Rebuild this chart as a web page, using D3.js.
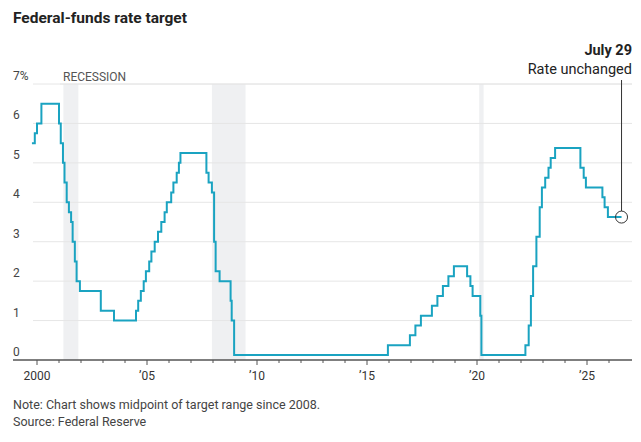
<!DOCTYPE html>
<html lang="en">
<head>
<meta charset="UTF-8">
<script src="https://d3js.org/d3.v7.min.js"></script>
<style>
  body { margin: 0; background: #fff; font-family: "Liberation Sans Narrow", Roboto, sans-serif; }
  text { font-family: "Liberation Sans Narrow", Roboto, sans-serif; }
</style>
</head>
<body>
<div id="chart"></div>
<script>
// [year, rate] - each value holds until the next step
const steps = [
  [1999.77, 5.5], [1999.9, 5.75], [2000.0, 6.0], [2000.15, 6.0], [2000.2, 6.5],
  [2001.0, 6.0], [2001.08, 5.5], [2001.18, 5.0], [2001.25, 4.5], [2001.35, 4.0],
  [2001.45, 3.75], [2001.55, 3.5], [2001.62, 3.0], [2001.72, 2.5], [2001.8, 2.0],
  [2001.95, 1.75], [2002.9, 1.25], [2003.5, 1.0], [2004.5, 1.25], [2004.6, 1.5],
  [2004.72, 1.75], [2004.85, 2.0], [2004.95, 2.25], [2005.1, 2.5], [2005.2, 2.75],
  [2005.35, 3.0], [2005.5, 3.25], [2005.65, 3.5], [2005.8, 3.75], [2005.9, 4.0],
  [2006.1, 4.25], [2006.2, 4.5], [2006.35, 4.75], [2006.45, 5.0], [2006.52, 5.25],
  [2007.7, 4.75], [2007.8, 4.5], [2007.95, 4.25], [2008.05, 3.0], [2008.12, 2.25],
  [2008.3, 2.0], [2008.8, 1.5], [2008.85, 1.0], [2008.96, 0.125],
  [2015.95, 0.375], [2016.95, 0.625], [2017.2, 0.875], [2017.45, 1.125],
  [2017.95, 1.375], [2018.2, 1.625], [2018.45, 1.875], [2018.7, 2.125],
  [2018.95, 2.375], [2019.55, 2.125], [2019.7, 1.875], [2019.8, 1.625],
  [2020.15, 1.125], [2020.2, 0.125], [2022.2, 0.375], [2022.35, 0.875],
  [2022.45, 1.625], [2022.55, 2.375], [2022.7, 3.125], [2022.85, 3.875],
  [2022.95, 4.375], [2023.1, 4.625], [2023.25, 4.875], [2023.35, 5.125],
  [2023.55, 5.375], [2024.7, 4.875], [2024.85, 4.625], [2024.95, 4.375],
  [2025.7, 4.125], [2025.8, 3.875], [2025.95, 3.625], [2026.57, 3.625]
];
const recessions = [[2001.2, 2001.88], [2007.95, 2009.48], [2020.1, 2020.3]];

const W = 641, H = 442;
const svg = d3.select("#chart").append("svg").attr("width", W).attr("height", H);

const x = d3.scaleLinear().domain([2000, 2010]).range([37, 257]);
const y = d3.scaleLinear().domain([0, 7]).range([360, 84]);
const left = 13, right = 632;

svg.append("text").attr("x", 13).attr("y", 23)
  .attr("font-size", 15.5).attr("font-weight", "bold").attr("fill", "#222")
  .text("Federal-funds rate target");

svg.selectAll("rect.rec").data(recessions).join("rect")
  .attr("x", d => x(d[0])).attr("width", d => x(d[1]) - x(d[0]))
  .attr("y", y(7)).attr("height", y(0) - y(7)).attr("fill", "#eff0f2");

svg.append("text").attr("x", 63).attr("y", 81).attr("font-size", 12).attr("fill", "#555")
  .text("RECESSION");

const ticks = d3.range(1, 8);
svg.selectAll("line.grid").data(ticks).join("line")
  .attr("x1", left + 20).attr("x2", right).attr("y1", d => y(d)).attr("y2", d => y(d))
  .attr("stroke", "#e6e6e6").attr("stroke-width", 1);
svg.selectAll("line.grid7").data([7]).join("line")
  .attr("x1", 60).attr("x2", right).attr("y1", y(7)).attr("y2", y(7))
  .attr("stroke", "#e6e6e6");
svg.selectAll("text.ylab").data(d3.range(0, 8)).join("text")
  .attr("x", left).attr("y", d => y(d) - 4).attr("font-size", 12).attr("fill", "#444")
  .text(d => d === 7 ? "7%" : d);

svg.append("path").datum(steps)
  .attr("fill", "none").attr("stroke", "#1aa3c1").attr("stroke-width", 2)
  .attr("d", d3.line().curve(d3.curveStepAfter).x(d => x(d[0])).y(d => y(d[1])));

// x axis
const xAxis = svg.append("g").attr("transform", `translate(0,${y(0)})`);
xAxis.append("line").attr("x1", left).attr("x2", right).attr("stroke", "#555").attr("stroke-width", 1.5);
xAxis.selectAll("line.t").data(d3.range(2000, 2027)).join("line")
  .attr("x1", d => x(d)).attr("x2", d => x(d)).attr("y1", 0).attr("y2", d => d % 5 === 0 ? 5 : 3)
  .attr("stroke", "#555");
xAxis.selectAll("text").data(d3.range(2000, 2026, 5)).join("text")
  .attr("x", d => x(d)).attr("y", 20).attr("text-anchor", "middle")
  .attr("font-size", 12).attr("fill", "#333")
  .text(d => d === 2000 ? "2000" : "\u2019" + String(d).slice(2));

// annotation
const last = steps[steps.length - 1];
svg.append("line").attr("x1", x(last[0])).attr("x2", x(last[0]))
  .attr("y1", 80).attr("y2", y(last[1]) - 6).attr("stroke", "#333");
svg.append("circle").attr("cx", x(last[0])).attr("cy", y(last[1])).attr("r", 6)
  .attr("fill", "none").attr("stroke", "#333");
svg.append("text").attr("x", 632).attr("y", 55).attr("text-anchor", "end")
  .attr("font-size", 14.5).attr("font-weight", "bold").attr("fill", "#222").text("July 29");
svg.append("text").attr("x", 632).attr("y", 74).attr("text-anchor", "end")
  .attr("font-size", 14.5).attr("fill", "#222").text("Rate unchanged");

svg.append("text").attr("x", 13).attr("y", 409).attr("font-size", 12.5).attr("fill", "#444")
  .text("Note: Chart shows midpoint of target range since 2008.");
svg.append("text").attr("x", 13).attr("y", 426).attr("font-size", 12.5).attr("fill", "#444")
  .text("Source: Federal Reserve");
</script>
</body>
</html>
